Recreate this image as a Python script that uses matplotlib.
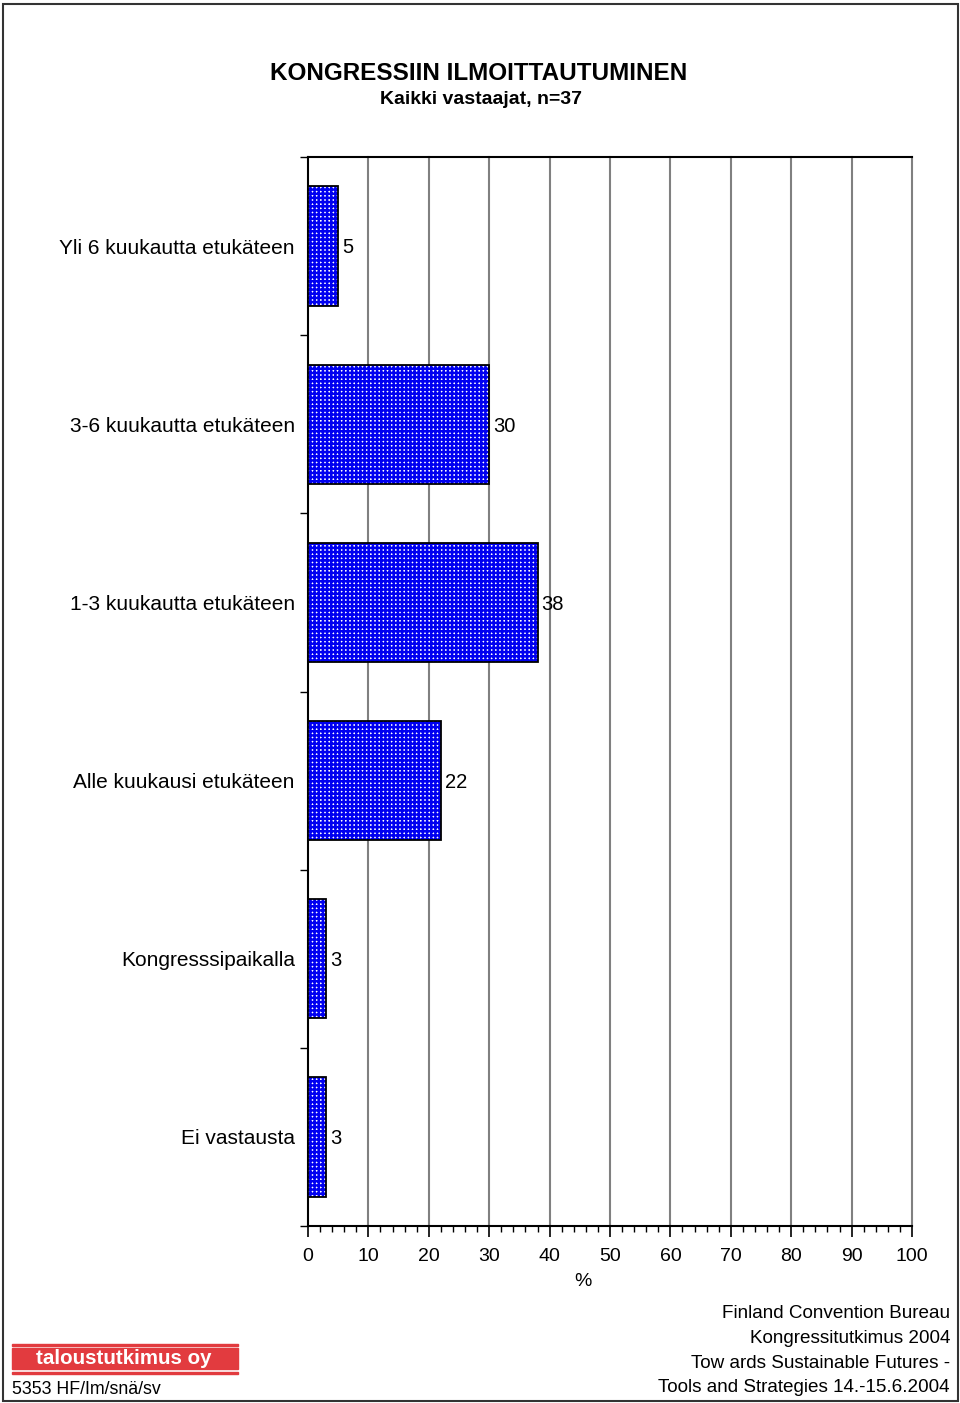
import matplotlib
matplotlib.use('Agg')
import matplotlib.pyplot as plt
from matplotlib.patches import Rectangle
import numpy as np

plt.rcParams['font.family'] = ['Liberation Sans', 'DejaVu Sans']
plt.rcParams['hatch.linewidth'] = 1.8

# Data
categories = ['Yli 6 kuukautta etukäteen', '3-6 kuukautta etukäteen',
              '1-3 kuukautta etukäteen', 'Alle kuukausi etukäteen',
              'Kongresssipaikalla', 'Ei vastausta']
values = [5, 30, 38, 22, 3, 3]
x_ticks = list(range(0, 101, 10))

W, H = 960, 1403
fig = plt.figure(figsize=(W / 100, H / 100), dpi=100)

# Plot area
ax = fig.add_axes([308 / W, 1 - 1226 / H, (912 - 308) / W, (1226 - 157) / H])
y = np.arange(len(categories))

ax.barh(y, values, height=0.67, color='white', edgecolor='#0000f0',
        hatch='++++', linewidth=0, zorder=3)
ax.barh(y, values, height=0.67, fill=False, edgecolor='black',
        linewidth=1.3, zorder=4)

for yi, v in zip(y, values):
    ax.text(v + 0.6, yi + 0.01, str(v), va='center', ha='left', fontsize=14.5,
            zorder=5)

ax.set_xlim(0, 100)
ax.set_ylim(len(categories) - 0.5, -0.5)

# Gridlines
for gx in x_ticks[1:]:
    ax.axvline(gx, color='#808080', linewidth=1.5, zorder=1, clip_on=False)

for s in ['left', 'top', 'bottom']:
    ax.spines[s].set_color('black')
    ax.spines[s].set_linewidth(1.5)
ax.spines['right'].set_visible(False)

# x ticks
ax.set_xticks(x_ticks)
ax.set_xticks(np.arange(0, 101, 2), minor=True)
ax.tick_params(axis='x', which='major', direction='out', length=8, width=1.2,
               labelsize=14, pad=7.5)
ax.tick_params(axis='x', which='minor', direction='out', length=4, width=1.0)

# y ticks: labels at centres, tick marks at band edges
ax.set_yticks(y)
ax.set_yticklabels(categories)
ax.set_yticks(np.arange(-0.5, len(categories), 1.0), minor=True)
ax.tick_params(axis='y', which='major', length=0, labelsize=15, pad=9.5)
ax.tick_params(axis='y', which='minor', direction='out', length=6, width=1.0)

ax.text(45.5, -0.0515, '%', transform=ax.get_xaxis_transform(),
        ha='center', va='center', fontsize=14)

# Titles
fig.text(479 / W, 1 - 73.5 / H, 'KONGRESSIIN ILMOITTAUTUMINEN', ha='center',
         va='center', fontsize=17.5, fontweight='bold')
fig.text(481 / W, 1 - 99.5 / H, 'Kaikki vastaajat, n=37', ha='center',
         va='center', fontsize=14, fontweight='bold')

# Footer
footer = ['Finland Convention Bureau', 'Kongressitutkimus 2004',
          'Tow ards Sustainable Futures -', 'Tools and Strategies 14.-15.6.2004']
for i, line in enumerate(footer):
    fig.text(950 / W, 1 - (1314 + i * 24.5) / H, line, ha='right', va='center',
             fontsize=13.6)

fig.text(12 / W, 1 - 1389 / H, '5353 HF/Im/snä/sv', ha='left', va='center',
         fontsize=12.8)

# Logo
red = '#e23b3f'
fig.patches.append(Rectangle((12 / W, 1 - 1369 / H), 226 / W, 21 / H,
                             transform=fig.transFigure, color=red, zorder=1))
fig.patches.append(Rectangle((12 / W, 1 - 1346 / H), 226 / W, 2 / H,
                             transform=fig.transFigure, color=red, zorder=1))
fig.patches.append(Rectangle((12 / W, 1 - 1374 / H), 226 / W, 2 / H,
                             transform=fig.transFigure, color=red, zorder=1))
fig.text(124 / W, 1 - 1358.5 / H, 'taloustutkimus oy', ha='center', va='center',
         fontsize=14.8, fontweight='bold', color='white')

# Outer frame
fig.patches.append(Rectangle((3 / W, 1 - 1401 / H), 955 / W, 1397 / H,
                             transform=fig.transFigure, fill=False,
                             edgecolor='#333333', linewidth=1.5))

fig.savefig('out.png', dpi=100)
